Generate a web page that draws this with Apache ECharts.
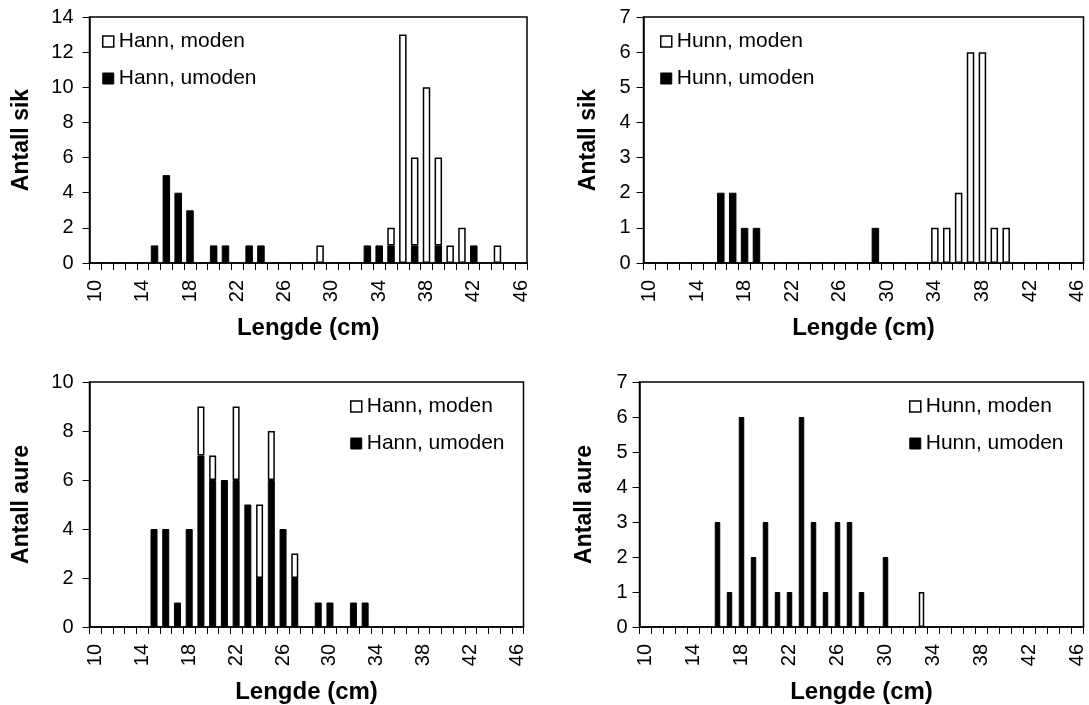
<!DOCTYPE html>
<html>
<head>
<meta charset="utf-8">
<script src="https://cdn.jsdelivr.net/npm/echarts@6/dist/echarts.min.js"></script>
<style>
  html, body { margin: 0; padding: 0; background: #fff; }
  #chart { width: 1089px; height: 705px; }
</style>
</head>
<body>
<div id="chart"></div>
<script>
// lengdeklasser (cm)
var lengths = ['10','11','12','13','14','15','16','17','18','19','20','21','22','23','24','25','26','27','28',
  '29','30','31','32','33','34','35','36','37','38','39','40','41','42','43','44','45','46'];

// sik, hann
var sikHannUmoden = [0,0,0,0,0,1,5,4,3,0,1,1,0,1,1,0,0,0,0,0,0,0,0,1,1,1,0,1,0,1,0,0,1,0,0,0,0];
var sikHannModen  = [0,0,0,0,0,0,0,0,0,0,0,0,0,0,0,0,0,0,0,1,0,0,0,0,0,1,13,5,10,5,1,2,0,0,1,0,0];
// sik, hunn
var sikHunnUmoden = [0,0,0,0,0,0,2,2,1,1,0,0,0,0,0,0,0,0,0,1,0,0,0,0,0,0,0,0,0,0,0,0,0,0,0,0,0];
var sikHunnModen  = [0,0,0,0,0,0,0,0,0,0,0,0,0,0,0,0,0,0,0,0,0,0,0,0,1,1,2,6,6,1,1,0,0,0,0,0,0];
// aure, hann
var aureHannUmoden = [0,0,0,0,0,4,4,1,4,7,6,6,6,5,2,6,4,2,0,1,1,0,1,1,0,0,0,0,0,0,0,0,0,0,0,0,0];
var aureHannModen  = [0,0,0,0,0,0,0,0,0,2,1,0,3,0,3,2,0,1,0,0,0,0,0,0,0,0,0,0,0,0,0,0,0,0,0,0,0];
// aure, hunn
var aureHunnUmoden = [0,0,0,0,0,0,3,1,6,2,3,1,1,6,3,1,3,3,1,0,2,0,0,0,0,0,0,0,0,0,0,0,0,0,0,0,0];
var aureHunnModen  = [0,0,0,0,0,0,0,0,0,0,0,0,0,0,0,0,0,0,0,0,0,0,0,1,0,0,0,0,0,0,0,0,0,0,0,0,0];

var yMax = [14, 7, 10, 7];
var yStep = [2, 1, 2, 1];
var yNames = ['Antall sik', 'Antall sik', 'Antall aure', 'Antall aure'];

var FONT = '"Liberation Sans", Arial, sans-serif';

function clean(arr) {
  return arr.map(function (v) { return v === 0 ? null : v; });
}

var grids = [
  { left: 89.5, top: 17, width: 437.5, height: 246 },
  { left: 643.5, top: 17, width: 440, height: 246 },
  { left: 89.5, top: 382, width: 434, height: 246 },
  { left: 639.5, top: 382, width: 444, height: 246 }
];
var barW = [7.5, 7.5, 7, 5.5];
var yNameGap = [56, 43, 56, 43];
var yLabelMargin = [16, 13, 16, 12];
var panels = [
  { ume: sikHannUmoden, mod: sikHannModen, sex: 'Hann' },
  { ume: sikHunnUmoden, mod: sikHunnModen, sex: 'Hunn' },
  { ume: aureHannUmoden, mod: aureHannModen, sex: 'Hann' },
  { ume: aureHunnUmoden, mod: aureHunnModen, sex: 'Hunn' }
];
var legendPos = [
  { left: 102, top: 31 },
  { left: 660, top: 31 },
  { left: 350, top: 396 },
  { left: 909, top: 396 }
];

var option = {
  animation: false,
  backgroundColor: '#fff',
  grid: [],
  xAxis: [],
  yAxis: [],
  legend: [],
  series: []
};

panels.forEach(function (p, i) {
  option.grid.push(Object.assign({ show: true, borderColor: '#000', borderWidth: 1.5, containLabel: false }, grids[i]));
  option.xAxis.push({
    type: 'category',
    gridIndex: i,
    data: lengths,
    boundaryGap: true,
    name: 'Lengde (cm)',
    nameLocation: 'middle',
    nameGap: 53,
    nameTextStyle: { fontFamily: FONT, fontSize: 24, fontWeight: 'bold', color: '#000' },
    axisLine: { lineStyle: { color: '#000', width: 1.5 } },
    axisTick: { show: true, interval: 0, length: 7, lineStyle: { color: '#000', width: 1 } },
    axisLabel: { interval: 3, rotate: 90, margin: 17, fontFamily: FONT, fontSize: 20, color: '#000' },
    splitLine: { show: false }
  });
  option.yAxis.push({
    type: 'value',
    gridIndex: i,
    min: 0,
    max: yMax[i],
    interval: yStep[i],
    name: yNames[i],
    nameLocation: 'middle',
    nameGap: yNameGap[i],
    nameTextStyle: { fontFamily: FONT, fontSize: 23, fontWeight: 'bold', color: '#000' },
    axisLine: { show: true, lineStyle: { color: '#000', width: 1.5 } },
    axisTick: { show: true, length: 7, lineStyle: { color: '#000', width: 1 } },
    axisLabel: { margin: yLabelMargin[i], fontFamily: FONT, fontSize: 20, color: '#000' },
    splitLine: { show: false }
  });
  var nMod = p.sex + ', moden';
  var nUme = p.sex + ', umoden';
  option.legend.push(Object.assign({
    orient: 'vertical',
    icon: 'rect',
    itemWidth: 11,
    itemHeight: 11,
    itemGap: 16,
    itemTextGap: 9,
    padding: 0,
    selectedMode: false,
    textStyle: { fontFamily: FONT, fontSize: 21, color: '#000' },
    data: [
      { name: nMod, itemStyle: { color: '#fff', borderColor: '#000', borderWidth: 1.5 } },
      { name: nUme, itemStyle: { color: '#000', borderColor: '#000', borderWidth: 1 } }
    ]
  }, legendPos[i]));
  option.series.push({
    name: nUme,
    type: 'bar',
    xAxisIndex: i,
    yAxisIndex: i,
    stack: 'p' + i,
    barWidth: barW[i],
    data: clean(p.ume),
    itemStyle: { color: '#000', borderColor: '#000', borderWidth: 1 }
  });
  option.series.push({
    name: nMod,
    type: 'bar',
    xAxisIndex: i,
    yAxisIndex: i,
    stack: 'p' + i,
    barWidth: barW[i],
    data: clean(p.mod),
    itemStyle: { color: '#fff', borderColor: '#000', borderWidth: 1.5 }
  });
});

var myChart = echarts.init(document.getElementById('chart'));
myChart.setOption(option);
</script>
</body>
</html>
